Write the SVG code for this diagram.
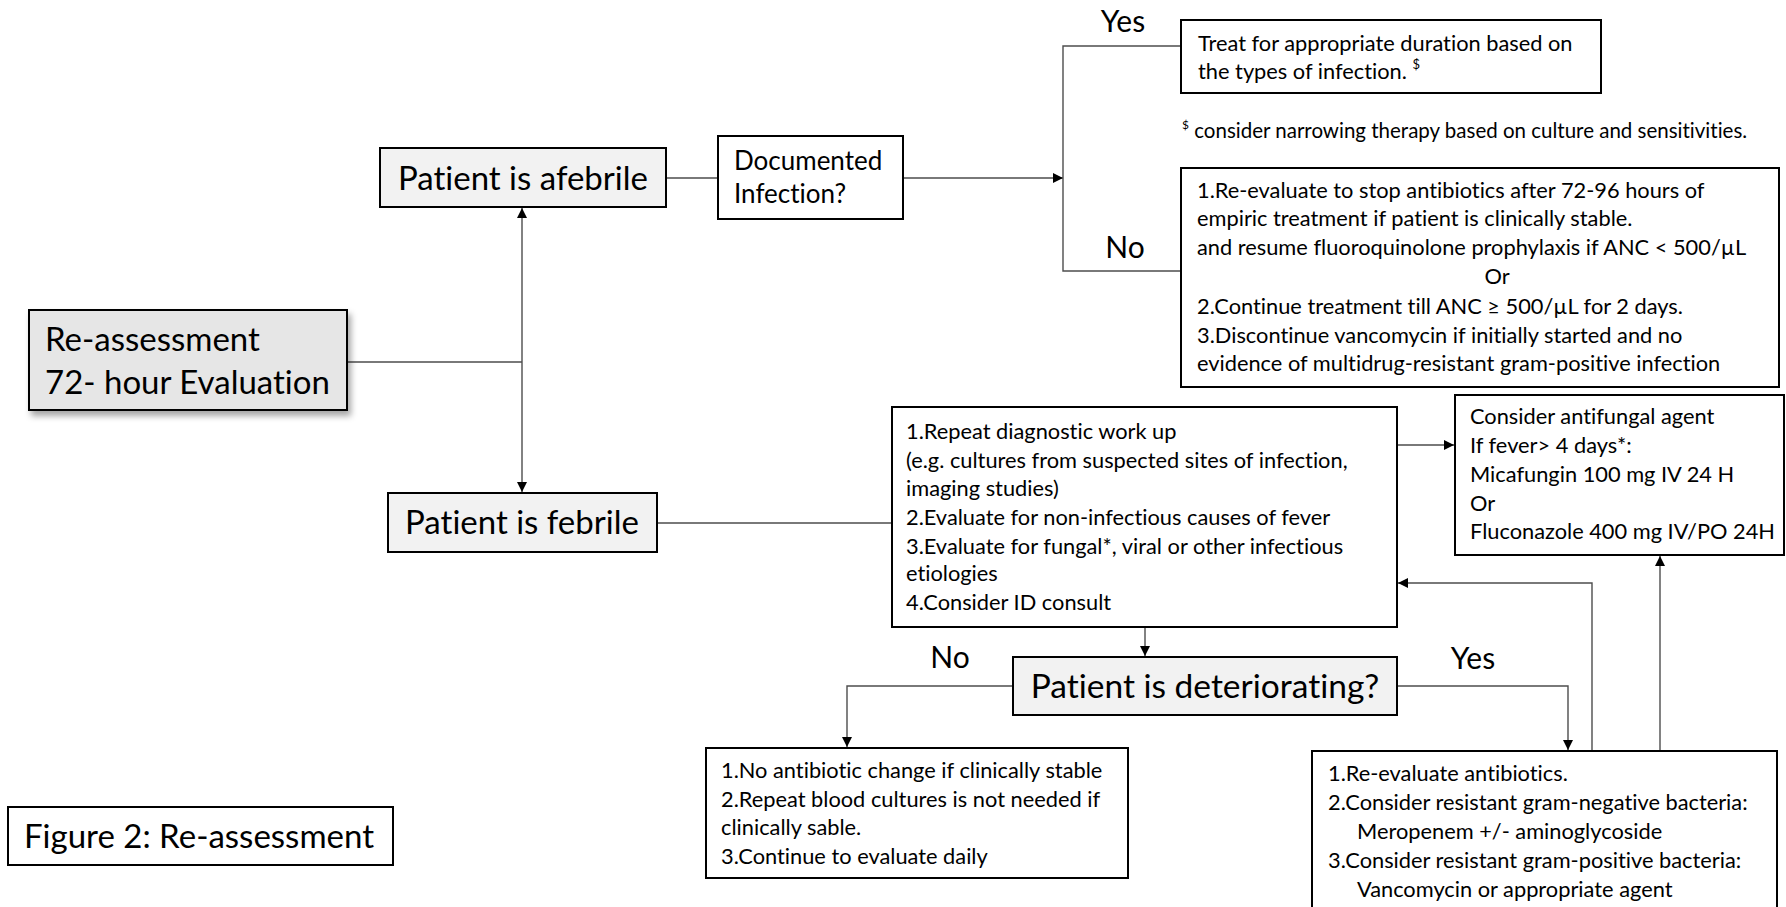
<svg xmlns="http://www.w3.org/2000/svg" width="1786" height="907" viewBox="0 0 1786 907">
<style>
.box{fill:#ffffff;stroke:#000;stroke-width:2}
.grey{fill:#f2f2f2;stroke:#000;stroke-width:2}
.main{fill:#e6e6e6;stroke:#000;stroke-width:2}
.t{font-family:Lato,"Liberation Sans",sans-serif;fill:#000;font-variant-ligatures:none;font-feature-settings:"liga" 0}
.body{font-size:21.8px}
.big{font-size:33px}
.lbl{font-size:30px}
.mid{font-size:26px}
.ln{fill:none;stroke:#4d4d4d;stroke-width:1.4}
</style>
<defs>
<marker id="ah" viewBox="0 0 10 10" refX="10" refY="5" markerWidth="10" markerHeight="10" markerUnits="userSpaceOnUse" orient="auto">
<path d="M0,0 L10,5 L0,10 z" fill="#000"/>
</marker>
<filter id="sh" x="-10%" y="-10%" width="130%" height="140%">
<feDropShadow dx="3" dy="5" stdDeviation="3" flood-color="#000" flood-opacity="0.35"/>
</filter>
</defs>
<rect width="1786" height="907" fill="#fff"/>

<g id="connectors">
<line class="ln" x1="347" y1="362" x2="522" y2="362"/>
<line class="ln" x1="522" y1="362" x2="522" y2="208" marker-end="url(#ah)"/>
<line class="ln" x1="522" y1="362" x2="522" y2="492" marker-end="url(#ah)"/>
<line class="ln" x1="666" y1="178" x2="718" y2="178"/>
<line class="ln" x1="903" y1="178" x2="1063" y2="178" marker-end="url(#ah)"/>
<polyline class="ln" points="1181,46 1063,46 1063,271 1181,271"/>
<line class="ln" x1="657" y1="523" x2="892" y2="523"/>
<line class="ln" x1="1397" y1="445" x2="1454" y2="445" marker-end="url(#ah)"/>
<line class="ln" x1="1145" y1="627" x2="1145" y2="656" marker-end="url(#ah)"/>
<polyline class="ln" points="1013,686 847,686 847,747" marker-end="url(#ah)"/>
<polyline class="ln" points="1397,686 1568,686 1568,750" marker-end="url(#ah)"/>
<polyline class="ln" points="1592,751 1592,583 1398,583" marker-end="url(#ah)"/>
<line class="ln" x1="1660" y1="751" x2="1660" y2="556" marker-end="url(#ah)"/>
<text class="t lbl" x="1123" y="32" text-anchor="middle">Yes</text>
<text class="t lbl" x="1125" y="258" text-anchor="middle">No</text>
<text class="t lbl" x="950" y="668" text-anchor="middle">No</text>
<text class="t lbl" x="1473" y="669" text-anchor="middle">Yes</text>
</g>

<g id="reassess">
<rect class="main" x="29" y="310" width="318" height="100" filter="url(#sh)"/>
<text class="t big" x="45" y="351">Re-assessment</text>
<text class="t big" x="45" y="394">72- hour Evaluation</text>
</g>

<g id="afebrile">
<rect class="grey" x="380" y="148" width="286" height="59"/>
<text class="t big" x="523" y="190" text-anchor="middle">Patient is afebrile</text>
</g>

<g id="documented">
<rect class="box" x="718" y="136" width="185" height="83"/>
<text class="t mid" x="734" y="170">Documented</text>
<text class="t mid" x="734" y="203">Infection?</text>
</g>

<g id="treat">
<rect class="box" x="1181" y="20" width="420" height="73"/>
<text class="t body" x="1198" y="51">Treat for appropriate duration based on</text>
<text class="t body" x="1198" y="79">the types of infection. <tspan font-size="13" dy="-10">$</tspan></text>
</g>

<g id="footnote">
<text class="t" font-size="20.5" x="1182" y="138"><tspan font-size="12" dy="-9">$</tspan><tspan dy="9"> consider narrowing therapy based on culture and sensitivities.</tspan></text>
</g>

<g id="noinfection">
<rect class="box" x="1181" y="168" width="598" height="219"/>
<text class="t body" x="1197" y="198">1.Re-evaluate to stop antibiotics after 72-96 hours of</text>
<text class="t body" x="1197" y="226">empiric treatment if patient is clinically stable.</text>
<text class="t body" x="1197" y="255">and resume fluoroquinolone prophylaxis if ANC &lt; 500/µL</text>
<text class="t body" x="1497" y="284" text-anchor="middle">Or</text>
<text class="t body" x="1197" y="314">2.Continue treatment till ANC ≥ 500/µL for 2 days.</text>
<text class="t body" x="1197" y="343">3.Discontinue vancomycin if initially started and no</text>
<text class="t body" x="1197" y="371">evidence of multidrug-resistant gram-positive infection</text>
</g>

<g id="febrile">
<rect class="grey" x="388" y="493" width="269" height="59"/>
<text class="t big" x="522" y="534" text-anchor="middle">Patient is febrile</text>
</g>

<g id="repeat">
<rect class="box" x="892" y="407" width="505" height="220"/>
<text class="t body" x="906" y="439">1.Repeat diagnostic work up</text>
<text class="t body" x="906" y="468">(e.g. cultures from suspected sites of infection,</text>
<text class="t body" x="906" y="496">imaging studies)</text>
<text class="t body" x="906" y="525">2.Evaluate for non-infectious causes of fever</text>
<text class="t body" x="906" y="554">3.Evaluate for fungal*, viral or other infectious</text>
<text class="t body" x="906" y="581">etiologies</text>
<text class="t body" x="906" y="610">4.Consider ID consult</text>
</g>

<g id="antifungal">
<rect class="box" x="1455" y="395" width="329" height="160"/>
<text class="t body" x="1470" y="424">Consider antifungal agent</text>
<text class="t body" x="1470" y="453">If fever&gt; 4 days*:</text>
<text class="t body" x="1470" y="482">Micafungin 100 mg IV 24 H</text>
<text class="t body" x="1470" y="511">Or</text>
<text class="t body" x="1470" y="539">Fluconazole 400 mg IV/PO 24H</text>
</g>

<g id="deteriorating">
<rect class="grey" x="1013" y="657" width="384" height="58"/>
<text class="t" font-size="33.5" x="1205" y="698" text-anchor="middle">Patient is deteriorating?</text>
</g>

<g id="noantibiotic">
<rect class="box" x="706" y="748" width="422" height="130"/>
<text class="t body" x="721" y="778">1.No antibiotic change if clinically stable</text>
<text class="t body" x="721" y="807">2.Repeat blood cultures is not needed if</text>
<text class="t body" x="721" y="835">clinically sable.</text>
<text class="t body" x="721" y="864">3.Continue to evaluate daily</text>
</g>

<g id="reevaluate">
<rect class="box" x="1312" y="751" width="465" height="175"/>
<text class="t body" x="1328" y="781">1.Re-evaluate antibiotics.</text>
<text class="t body" x="1328" y="810">2.Consider resistant gram-negative bacteria:</text>
<text class="t body" x="1357" y="839">Meropenem +/- aminoglycoside</text>
<text class="t body" x="1328" y="868">3.Consider resistant gram-positive bacteria:</text>
<text class="t body" x="1357" y="897">Vancomycin or appropriate agent</text>
</g>

<g id="caption">
<rect class="box" x="8" y="807" width="385" height="58"/>
<text class="t big" x="24" y="848">Figure 2: Re-assessment</text>
</g>
</svg>
